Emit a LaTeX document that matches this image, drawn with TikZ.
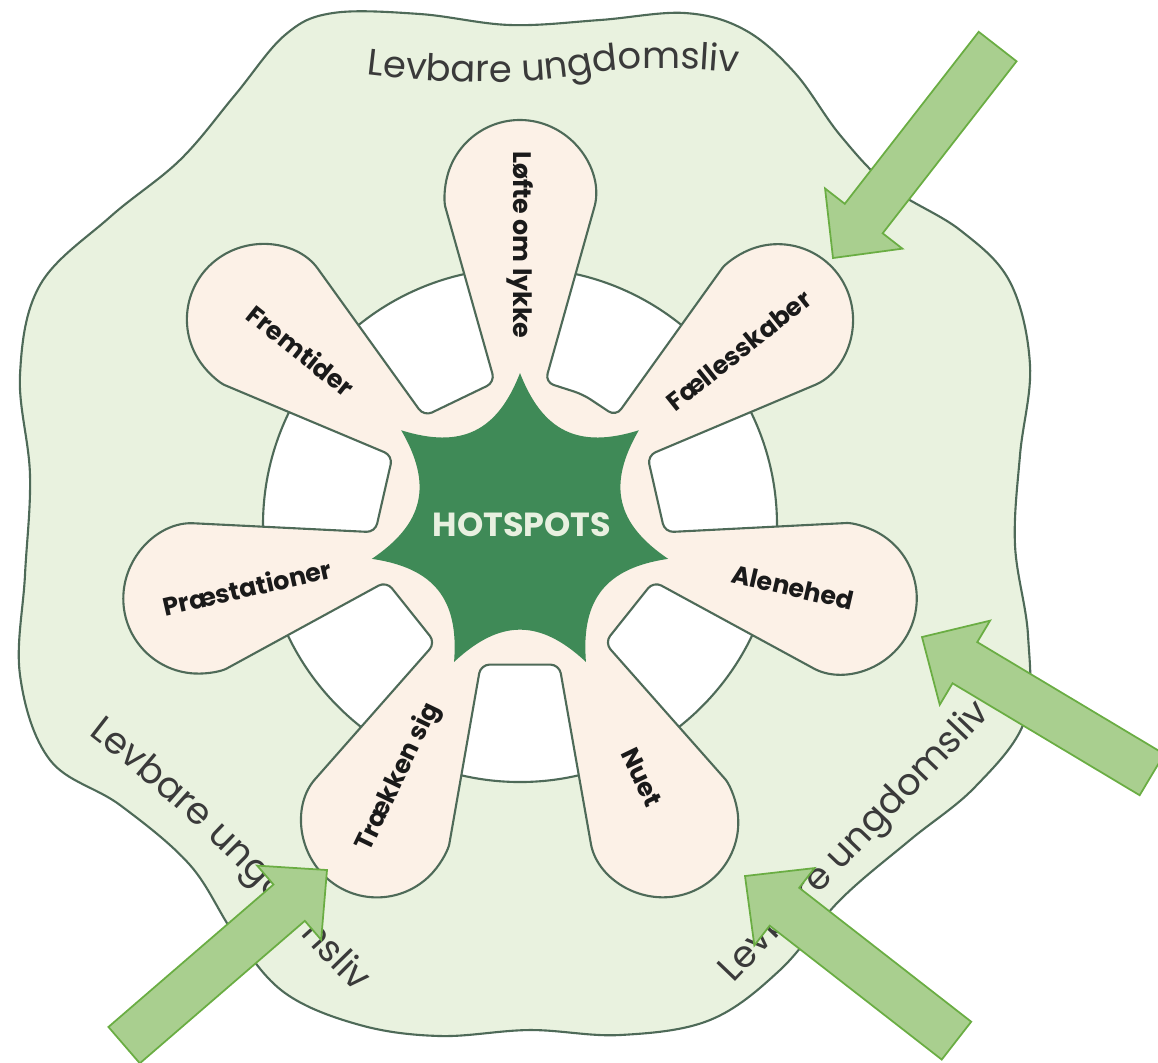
\documentclass[tikz,border=0pt]{standalone}
\usepackage{fontspec}
\setmainfont{Poppins}
\usetikzlibrary{decorations.text}

\definecolor{blobgreen}{HTML}{E9F2DF}
\definecolor{edgegray}{HTML}{4E6A58}
\definecolor{cream}{HTML}{FCF1E7}
\definecolor{stargreen}{HTML}{3F8A57}
\definecolor{hotlight}{HTML}{E8F0E0}
\definecolor{labelblack}{HTML}{1A1A1A}
\definecolor{levgray}{HTML}{3A3A3A}
\definecolor{arrowfill}{HTML}{A9CF8F}
\definecolor{arrowedge}{HTML}{6AAD43}

\newcommand{\levfont}{\fontsize{10.5}{12}\selectfont}
\newcommand{\greenarrow}[2]{%
  \begin{scope}[shift={(#1)}, rotate=#2]
    \draw[arrowbody] (0,0) -- (50,49) -- (50,24) -- (268,24) -- (268,-24) -- (50,-24) -- (50,-49) -- cycle;
  \end{scope}}

\begin{document}
\begin{tikzpicture}[x=0.01cm, y=0.01cm,
  edge/.style={draw=edgegray, line width=0.6pt},
  petaltext/.style={font=\fontsize{7.2}{8}\selectfont\bfseries, text=labelblack},
  levtext/.style={decorate, decoration={text along path, text align=center, text color=levgray}},
  arrowbody/.style={fill=arrowfill, draw=arrowedge, line width=0.5pt, line join=miter}]
\useasboundingbox (-520,-537) rectangle (638,525);
\clip (-520,-537) rectangle (638,525);

% outer blob
\draw[edge, fill=blobgreen] plot[smooth cycle, tension=0.6] coordinates {
  (-187,512) (-100,511) (-10,500) (80,505) (165,512) (225,495) (275,452) (320,390)
  (370,338) (440,295) (490,243) (510,160) (500,70) (495,-20) (508,-110) (505,-195)
  (455,-262) (390,-315) (320,-375) (260,-445) (190,-495) (100,-510) (10,-505)
  (-80,-511) (-160,-500) (-235,-468) (-285,-410) (-330,-340) (-400,-280) (-470,-235)
  (-500,-150) (-495,-50) (-490,50) (-500,150) (-480,240) (-410,308) (-340,365)
  (-285,430) (-235,490)};

% hole
\draw[edge, fill=white] (0,0) circle[radius=257];

% flower
\draw[edge, fill=cream, rounded corners=2.5pt] (64.29:145)
  \foreach \a in {90,141.43,192.86,244.29,295.71,347.14,398.57} {
    -- (\a-10:145) -- (\a-13.1:318) arc[start angle=\a-105.7, end angle=\a+105.7, radius=75] -- (\a+10:145)
  } -- cycle;

% star
\fill[stargreen] (90:152)
  \foreach \p in {90,141.43,192.86,244.29,295.71,347.14,398.57} {
    .. controls (\p+13.71:96) and (\p+37.71:96) .. (\p+51.43:152)
  } -- cycle;
\node[font=\fontsize{9.5}{11}\selectfont\bfseries, text=hotlight] (hot) at (2,0) {HOTSPOTS};

\node[petaltext, rotate=-90] (loefte) at (90:280) {Løfte om lykke};
\node[petaltext, rotate=38.57] (faelles) at (38.57:280) {Fællesskaber};
\node[petaltext, rotate=-12.86] (alene) at (-12.86:280) {Alenehed};
\node[petaltext, rotate=-64.29] (nuet) at (-64.29:280) {Nuet};
\node[petaltext, rotate=64.29] (traek) at (-115.71:280) {Trækken sig};
\node[petaltext, rotate=12.86] (praest) at (192.86:280) {Præstationer};
\node[petaltext, rotate=-38.57] (fremtid) at (141.43:280) {Fremtider};

% outer texts
\path[levtext, decoration={text={|\levfont|Levbare ungdomsliv}}]
  (-185,455) .. controls (-90,440) and (10,440) .. (60,450) .. controls (110,460) and (190,458) .. (250,448);
\path[levtext, decoration={text={|\levfont|Levbare ungdomsliv}}]
  (-445,-200) .. controls (-375,-252) and (-300,-320) .. (-250,-375) .. controls (-210,-420) and (-180,-455) .. (-150,-478);
\path[levtext, decoration={text={|\levfont|Levbare ungdomsliv}}]
  (210,-462) -- (475,-185);

% arrows
\coordinate (tipA) at (313,267);
\coordinate (tipB) at (402,-112);
\coordinate (tipC) at (-193,-345);
\coordinate (tipD) at (225,-351);
\greenarrow{tipA}{52.1}
\greenarrow{tipB}{-30.9}
\greenarrow{tipC}{220.8}
\greenarrow{tipD}{-37.9}
\end{tikzpicture}
\end{document}
